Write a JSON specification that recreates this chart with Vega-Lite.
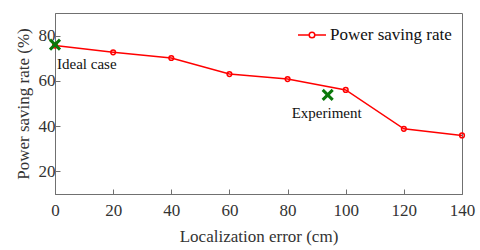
{
  "$schema": "https://vega.github.io/schema/vega-lite/v6.json",
  "width": 407,
  "height": 181,
  "autosize": "none",
  "padding": {"left": 55, "top": 13, "right": 18, "bottom": 56},
  "background": "white",
  "config": {
    "view": {"stroke": "#707070", "strokeWidth": 1},
    "axis": {
      "labelFont": "Liberation Serif",
      "titleFont": "Liberation Serif",
      "labelFontSize": 17,
      "titleFontSize": 17,
      "titleFontWeight": "normal",
      "labelColor": "#333333",
      "titleColor": "#333333",
      "domainColor": "#707070",
      "tickColor": "#707070",
      "grid": false,
      "tickSize": -5,
      "labelFlush": false
    },
    "legend": {"labelFont": "Liberation Serif"},
    "text": {"font": "Liberation Serif"}
  },
  "datasets": {
    "rate": [
      {"err": 0, "rate": 75.6, "series": "Power saving rate"},
      {"err": 20, "rate": 72.6, "series": "Power saving rate"},
      {"err": 40, "rate": 70.1, "series": "Power saving rate"},
      {"err": 60, "rate": 63.0, "series": "Power saving rate"},
      {"err": 80, "rate": 60.8, "series": "Power saving rate"},
      {"err": 100, "rate": 56.0, "series": "Power saving rate"},
      {"err": 120, "rate": 38.8, "series": "Power saving rate"},
      {"err": 140, "rate": 35.9, "series": "Power saving rate"}
    ],
    "marks": [
      {"err": 0, "rate": 76.0, "label": "Ideal case"},
      {"err": 93.8, "rate": 53.8, "label": "Experiment"}
    ]
  },
  "layer": [
    {
      "data": {"name": "rate"},
      "mark": {"type": "line", "strokeWidth": 1.5, "point": {"filled": false, "size": 22, "strokeWidth": 1.5, "opacity": 1}},
      "encoding": {
        "x": {
          "field": "err", "type": "quantitative",
          "scale": {"domain": [0, 140], "nice": false},
          "axis": {"values": [0, 20, 40, 60, 80, 100, 120, 140], "title": "Localization error (cm)", "labelFont": "Liberation Serif", "titleFont": "Liberation Serif", "labelPadding": 13, "titlePadding": 10}
        },
        "y": {
          "field": "rate", "type": "quantitative",
          "scale": {"domain": [10, 90], "nice": false},
          "axis": {"values": [20, 40, 60, 80], "title": "Power saving rate (%)", "labelFont": "Liberation Serif", "titleFont": "Liberation Serif", "labelPadding": 5, "titlePadding": 6}
        },
        "color": {
          "field": "series", "type": "nominal",
          "scale": {"domain": ["Power saving rate"], "range": ["#ff0000"]},
          "legend": {
            "title": null,
            "orient": "none",
            "legendX": 242,
            "legendY": 7,
            "padding": 0,
            "labelFont": "Liberation Serif",
            "labelFontSize": 17,
            "labelColor": "#111111",
            "labelOffset": 3,
            "symbolType": "M-1,0H-0.2M0.2,0H1M-0.2,0A0.2,0.2 0 1,0 0.2,0A0.2,0.2 0 1,0 -0.2,0",
            "symbolSize": 784,
            "symbolStrokeWidth": 1.5,
            "symbolStrokeColor": "#ff0000",
            "symbolFillColor": "transparent",
            "symbolOpacity": 1
          }
        }
      }
    },
    {
      "data": {"name": "marks"},
      "mark": {"type": "point", "shape": "M-1,-1L1,1M-1,1L1,-1", "size": 100, "filled": false, "strokeWidth": 3, "color": "#0a780a", "opacity": 1},
      "encoding": {
        "x": {"field": "err", "type": "quantitative"},
        "y": {"field": "rate", "type": "quantitative"}
      }
    },
    {
      "data": {"name": "marks"},
      "mark": {"type": "text", "font": "Liberation Serif", "fontSize": 15, "color": "#111111", "dy": 19, "baseline": "middle", "align": "left", "dx": 2},
      "transform": [{"filter": "datum.label == 'Ideal case'"}],
      "encoding": {
        "x": {"field": "err", "type": "quantitative"},
        "y": {"field": "rate", "type": "quantitative"},
        "text": {"field": "label"}
      }
    },
    {
      "data": {"name": "marks"},
      "mark": {"type": "text", "font": "Liberation Serif", "fontSize": 15, "color": "#111111", "dy": 18, "baseline": "middle", "align": "center", "dx": -1},
      "transform": [{"filter": "datum.label == 'Experiment'"}],
      "encoding": {
        "x": {"field": "err", "type": "quantitative"},
        "y": {"field": "rate", "type": "quantitative"},
        "text": {"field": "label"}
      }
    }
  ]
}
